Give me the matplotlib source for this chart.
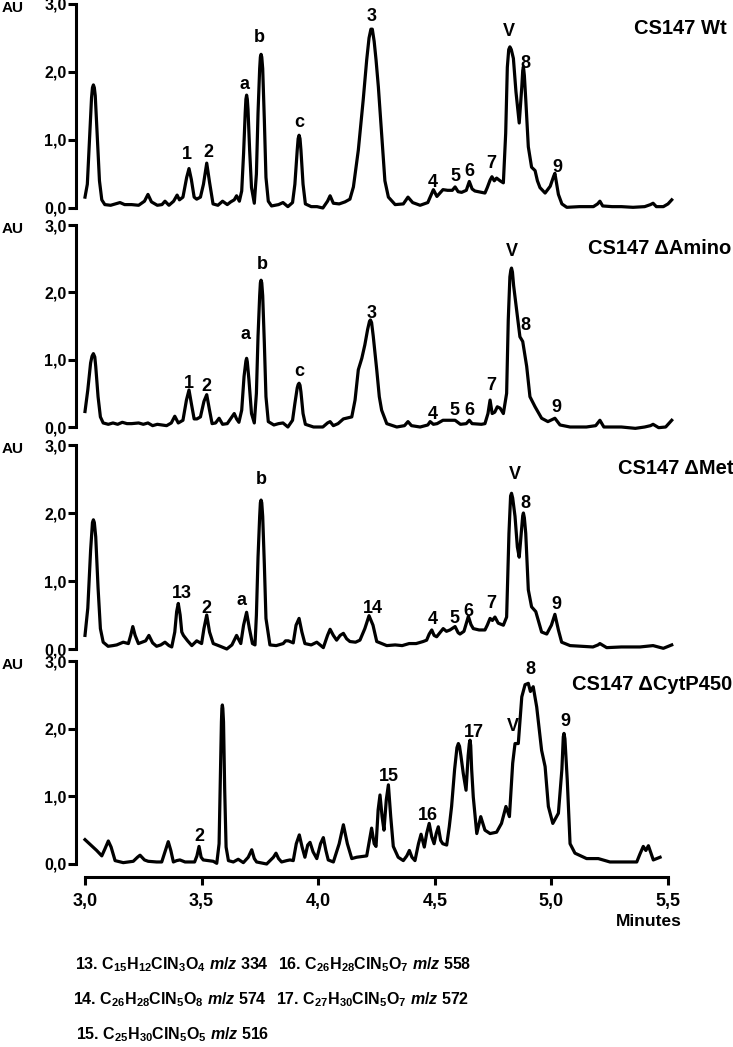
import matplotlib.pyplot as plt

# chromatogram traces: (minutes, AU)
wt_trace = [(3.000, 0.16), (3.010, 0.35), (3.020, 1.05), (3.028, 1.62), (3.032, 1.77), (3.036, 1.81), (3.040, 1.77),
            (3.044, 1.65), (3.052, 1.10),
            (3.062, 0.40), (3.072, 0.12), (3.085, 0.05), (3.110, 0.04), (3.130, 0.06), (3.150, 0.08), (3.170, 0.05),
            (3.200, 0.05), (3.230, 0.04), (3.255, 0.10), (3.270, 0.20), (3.285, 0.09), (3.310, 0.04), (3.330, 0.05),
            (3.343, 0.10), (3.360, 0.04), (3.380, 0.10), (3.395, 0.19), (3.405, 0.12), (3.420, 0.16), (3.436, 0.45),
            (3.446, 0.58), (3.456, 0.42), (3.468, 0.16), (3.479, 0.13), (3.495, 0.16), (3.508, 0.35), (3.522, 0.66),
            (3.534, 0.38), (3.549, 0.06), (3.570, 0.04), (3.590, 0.10), (3.610, 0.05), (3.625, 0.09), (3.640, 0.12),
            (3.650, 0.18), (3.662, 0.10), (3.672, 0.25), (3.680, 0.80), (3.687, 1.40), (3.690, 1.60), (3.693, 1.66),
            (3.696, 1.60), (3.699, 1.45),
            (3.706, 0.85), (3.714, 0.30), (3.726, 0.07), (3.735, 0.50), (3.742, 1.40), (3.749, 2.05), (3.752, 2.22),
            (3.755, 2.26), (3.758, 2.22),
            (3.762, 2.05), (3.769, 1.30), (3.776, 0.45), (3.786, 0.10), (3.800, 0.03), (3.830, 0.05), (3.849, 0.08),
            (3.870, 0.02), (3.890, 0.08), (3.900, 0.35), (3.910, 0.85), (3.914, 1.02), (3.918, 1.07), (3.922, 1.02),
            (3.926, 0.85), (3.935, 0.35),
            (3.945, 0.06), (3.970, 0.02), (3.995, 0.02), (4.020, 0.00), (4.040, 0.10), (4.051, 0.18), (4.065, 0.07),
            (4.090, 0.06), (4.115, 0.09), (4.136, 0.13), (4.151, 0.31), (4.172, 0.85), (4.193, 1.59), (4.208, 2.18),
            (4.218, 2.50), (4.226, 2.63), (4.232, 2.63), (4.240, 2.45), (4.248, 2.18), (4.258, 1.78), (4.272, 1.10),
            (4.286, 0.40), (4.301, 0.16),
            (4.330, 0.05), (4.365, 0.06), (4.385, 0.16), (4.405, 0.08), (4.437, 0.04), (4.470, 0.08), (4.480, 0.16),
            (4.494, 0.27), (4.509, 0.17), (4.535, 0.27), (4.555, 0.26), (4.575, 0.26), (4.587, 0.31), (4.600, 0.24),
            (4.615, 0.23), (4.635, 0.26), (4.648, 0.39), (4.660, 0.28), (4.672, 0.25), (4.700, 0.23), (4.715, 0.22),
            (4.725, 0.30), (4.737, 0.41), (4.745, 0.46), (4.755, 0.40), (4.765, 0.44), (4.780, 0.40), (4.794, 0.37),
            (4.804, 1.10), (4.811, 2.07), (4.817, 2.33), (4.822, 2.37), (4.828, 2.33), (4.837, 2.20), (4.848, 1.71),
            (4.862, 1.25), (4.873, 1.78), (4.877, 2.02),
            (4.880, 2.08), (4.884, 1.95), (4.890, 1.60), (4.901, 0.90), (4.915, 0.60), (4.930, 0.55), (4.940, 0.40),
            (4.951, 0.30), (4.973, 0.22), (4.995, 0.32), (5.010, 0.47), (5.015, 0.51), (5.030, 0.20), (5.045, 0.06),
            (5.066, 0.01), (5.120, 0.02),
            (5.180, 0.02), (5.198, 0.06), (5.208, 0.10), (5.220, 0.03), (5.260, 0.02), (5.300, 0.02), (5.350, 0.01),
            (5.400, 0.02), (5.425, 0.05), (5.436, 0.07), (5.450, 0.02), (5.480, 0.02), (5.500, 0.06), (5.516, 0.12)]

amino_trace = [(3.000, 0.23), (3.012, 0.55), (3.024, 0.95), (3.030, 1.05), (3.036, 1.09), (3.042, 1.04), (3.046, 0.90),
               (3.056, 0.45), (3.066, 0.15),
               (3.078, 0.06), (3.100, 0.04), (3.120, 0.06), (3.140, 0.04), (3.160, 0.07), (3.180, 0.05), (3.200, 0.05),
               (3.230, 0.06), (3.250, 0.04), (3.270, 0.06), (3.290, 0.02), (3.310, 0.04), (3.330, 0.03), (3.350, 0.02),
               (3.370, 0.06), (3.385, 0.16), (3.400, 0.06), (3.420, 0.10), (3.435, 0.40), (3.446, 0.55), (3.456, 0.35),
               (3.468, 0.12), (3.480, 0.12), (3.495, 0.15), (3.510, 0.38), (3.522, 0.48), (3.534, 0.25), (3.545, 0.05),
               (3.560, 0.06), (3.575, 0.13), (3.590, 0.04), (3.610, 0.05), (3.630, 0.15), (3.640, 0.20), (3.650, 0.12),
               (3.660, 0.07), (3.672, 0.25), (3.682, 0.75), (3.690, 0.98), (3.693, 1.02), (3.696, 0.97), (3.703, 0.70),
               (3.714, 0.20), (3.726, 0.06),
               (3.735, 0.50), (3.742, 1.35), (3.749, 1.95), (3.752, 2.14), (3.755, 2.18), (3.758, 2.14), (3.762, 1.95),
               (3.769, 1.25), (3.776, 0.45),
               (3.786, 0.08), (3.810, 0.03), (3.830, 0.05), (3.849, 0.06), (3.870, 0.00), (3.890, 0.10), (3.900, 0.35),
               (3.910, 0.58), (3.914, 0.63), (3.918, 0.65), (3.922, 0.62), (3.926, 0.52), (3.935, 0.20), (3.945, 0.04),
               (3.980, 0.00), (4.020, 0.00),
               (4.040, 0.06), (4.051, 0.08), (4.065, 0.02), (4.085, 0.05), (4.108, 0.12), (4.144, 0.15), (4.158, 0.40),
               (4.172, 0.85), (4.187, 1.02), (4.200, 1.22), (4.212, 1.45), (4.220, 1.57), (4.224, 1.59), (4.229, 1.55),
               (4.236, 1.35), (4.251, 0.85),
               (4.262, 0.45), (4.272, 0.25), (4.294, 0.05), (4.337, 0.00), (4.370, 0.02), (4.385, 0.08), (4.400, 0.02),
               (4.437, 0.00), (4.470, 0.03), (4.480, 0.08), (4.494, 0.04), (4.510, 0.05), (4.535, 0.10), (4.560, 0.10),
               (4.587, 0.10), (4.610, 0.04), (4.635, 0.05), (4.648, 0.10), (4.660, 0.05), (4.700, 0.04), (4.715, 0.05),
               (4.728, 0.20), (4.737, 0.40), (4.746, 0.20), (4.757, 0.22), (4.768, 0.30), (4.780, 0.28), (4.794, 0.20),
               (4.808, 0.50), (4.815, 1.59), (4.822, 2.23), (4.826, 2.33), (4.829, 2.36), (4.833, 2.30), (4.838, 2.10),
               (4.851, 1.74), (4.865, 1.34),
               (4.877, 1.27), (4.894, 0.90), (4.908, 0.45), (4.930, 0.30), (4.958, 0.13), (4.985, 0.08), (5.015, 0.13),
               (5.037, 0.03), (5.080, 0.00), (5.150, 0.00), (5.190, 0.02), (5.208, 0.10), (5.225, 0.00), (5.300, 0.00),
               (5.360, -0.02), (5.400, 0.00), (5.425, 0.02), (5.436, 0.04), (5.460, -0.01), (5.490, 0.00), (5.516, 0.10)]

met_trace = [(3.000, 0.20), (3.012, 0.60), (3.024, 1.45), (3.032, 1.86), (3.036, 1.90), (3.040, 1.86), (3.046, 1.65),
             (3.056, 0.90), (3.066, 0.30),
             (3.078, 0.10), (3.099, 0.04), (3.120, 0.05), (3.136, 0.06), (3.150, 0.08), (3.164, 0.10), (3.186, 0.08),
             (3.196, 0.20), (3.205, 0.33), (3.215, 0.20), (3.229, 0.08), (3.260, 0.12), (3.274, 0.20), (3.290, 0.09),
             (3.307, 0.04), (3.325, 0.06), (3.343, 0.10), (3.360, 0.05), (3.372, 0.03), (3.385, 0.25), (3.393, 0.55),
             (3.400, 0.67), (3.408, 0.50), (3.415, 0.25), (3.422, 0.20), (3.440, 0.12), (3.458, 0.05), (3.479, 0.12),
             (3.500, 0.08), (3.510, 0.30), (3.522, 0.50), (3.534, 0.25), (3.550, 0.08), (3.580, 0.04), (3.608, 0.00),
             (3.630, 0.06), (3.650, 0.20), (3.668, 0.08), (3.680, 0.35), (3.693, 0.54), (3.705, 0.30), (3.718, 0.08),
             (3.729, 0.06), (3.735, 0.50), (3.742, 1.35), (3.749, 1.95), (3.752, 2.15), (3.755, 2.19), (3.758, 2.15),
             (3.762, 1.95), (3.769, 1.25),
             (3.776, 0.45), (3.793, 0.06), (3.820, 0.05), (3.850, 0.08), (3.860, 0.12), (3.872, 0.12), (3.893, 0.09),
             (3.905, 0.35), (3.918, 0.45), (3.930, 0.25), (3.943, 0.08), (3.970, 0.06), (3.994, 0.10), (4.022, 0.02),
             (4.040, 0.20), (4.051, 0.29), (4.065, 0.20), (4.079, 0.13), (4.094, 0.20), (4.108, 0.23), (4.122, 0.15),
             (4.136, 0.11), (4.160, 0.10), (4.179, 0.13), (4.200, 0.30), (4.218, 0.49), (4.235, 0.35), (4.251, 0.11),
             (4.294, 0.05), (4.330, 0.06), (4.360, 0.05), (4.390, 0.08), (4.420, 0.08), (4.450, 0.11), (4.465, 0.13),
             (4.476, 0.22), (4.487, 0.28), (4.497, 0.20), (4.508, 0.18), (4.522, 0.24), (4.536, 0.30), (4.550, 0.26),
             (4.565, 0.28), (4.587, 0.33), (4.600, 0.24), (4.608, 0.22), (4.625, 0.26), (4.644, 0.48), (4.655, 0.36),
             (4.665, 0.30), (4.690, 0.28), (4.715, 0.28), (4.725, 0.35), (4.737, 0.45), (4.747, 0.42), (4.758, 0.47),
             (4.772, 0.38), (4.794, 0.35), (4.808, 0.47), (4.818, 1.70), (4.825, 2.25), (4.829, 2.29), (4.834, 2.22),
             (4.844, 1.95), (4.854, 1.50),
             (4.862, 1.35), (4.873, 1.80), (4.877, 1.96), (4.880, 2.00), (4.884, 1.93), (4.890, 1.70), (4.901, 0.87),
             (4.915, 0.62), (4.933, 0.55),
             (4.958, 0.25), (4.980, 0.22), (5.000, 0.35), (5.015, 0.51), (5.030, 0.28), (5.044, 0.10), (5.080, 0.05),
             (5.178, 0.03), (5.200, 0.06), (5.208, 0.08), (5.237, 0.02), (5.300, 0.03), (5.380, 0.03), (5.436, 0.05),
             (5.480, 0.01), (5.516, 0.06)]

cyt_trace = [(3.000, 0.36), (3.025, 0.28), (3.050, 0.20), (3.072, 0.12), (3.085, 0.22), (3.100, 0.34), (3.112, 0.25),
             (3.129, 0.05), (3.164, 0.02), (3.207, 0.04), (3.225, 0.10), (3.236, 0.13), (3.255, 0.06), (3.271, 0.04),
             (3.307, 0.03), (3.329, 0.03), (3.345, 0.20), (3.357, 0.33), (3.368, 0.20), (3.379, 0.03), (3.393, 0.05),
             (3.407, 0.06), (3.429, 0.03), (3.470, 0.03), (3.480, 0.12), (3.489, 0.26), (3.498, 0.10), (3.507, 0.06),
             (3.530, 0.05), (3.550, 0.04), (3.565, 0.01), (3.575, 0.30), (3.580, 1.20), (3.585, 2.10), (3.587, 2.30),
             (3.589, 2.35), (3.591, 2.30),
             (3.594, 2.10), (3.599, 1.10), (3.605, 0.25), (3.615, 0.05), (3.636, 0.03), (3.657, 0.07), (3.679, 0.02),
             (3.700, 0.10), (3.715, 0.21), (3.726, 0.08), (3.736, 0.03), (3.779, 0.00), (3.808, 0.10), (3.819, 0.16),
             (3.830, 0.08), (3.843, 0.03), (3.865, 0.05), (3.879, 0.06), (3.893, 0.05), (3.906, 0.30), (3.919, 0.43),
             (3.931, 0.25), (3.943, 0.10), (3.955, 0.28), (3.965, 0.32), (3.978, 0.18), (3.994, 0.08), (4.010, 0.30),
             (4.022, 0.39), (4.033, 0.20), (4.043, 0.06), (4.065, 0.03), (4.090, 0.30), (4.108, 0.58), (4.125, 0.30),
             (4.144, 0.08), (4.165, 0.10), (4.208, 0.12), (4.220, 0.35), (4.229, 0.53), (4.240, 0.30), (4.248, 0.26),
             (4.257, 0.80), (4.265, 1.02), (4.274, 0.70), (4.282, 0.50), (4.292, 0.95), (4.301, 1.17), (4.311, 0.70),
             (4.322, 0.26), (4.343, 0.10), (4.365, 0.05), (4.380, 0.12), (4.391, 0.20), (4.402, 0.10), (4.415, 0.05),
             (4.430, 0.30), (4.441, 0.44), (4.455, 0.25), (4.465, 0.45), (4.476, 0.60), (4.487, 0.40), (4.497, 0.30),
             (4.506, 0.45), (4.515, 0.55), (4.525, 0.35), (4.534, 0.30), (4.551, 0.28), (4.562, 0.55), (4.572, 0.85),
             (4.585, 1.40), (4.595, 1.72), (4.601, 1.78), (4.606, 1.74), (4.612, 1.60), (4.622, 1.34), (4.634, 1.09),
             (4.643, 1.60), (4.648, 1.78), (4.651, 1.83), (4.654, 1.75),
             (4.658, 1.40), (4.665, 0.99), (4.680, 0.45), (4.697, 0.70), (4.715, 0.50), (4.737, 0.45), (4.765, 0.47),
             (4.786, 0.60), (4.805, 0.85), (4.820, 0.70), (4.834, 1.49), (4.844, 1.78), (4.858, 1.78), (4.873, 2.47),
             (4.887, 2.65), (4.901, 2.67), (4.910, 2.55), (4.922, 2.62), (4.937, 2.32), (4.958, 1.68), (4.973, 1.44),
             (4.987, 0.85), (5.006, 0.60), (5.030, 0.75), (5.045, 1.40), (5.051, 1.88), (5.054, 1.93), (5.058, 1.85),
             (5.068, 1.24), (5.080, 0.30),
             (5.101, 0.16), (5.151, 0.08), (5.201, 0.08), (5.251, 0.03), (5.366, 0.03), (5.380, 0.15), (5.394, 0.26),
             (5.405, 0.20), (5.416, 0.27), (5.437, 0.06), (5.466, 0.10)]

# peak labels: (text, minutes, AU)
wt_peaks = [("1", 3.436, 0.78), ("2", 3.528, 0.81), ("a", 3.682, 1.81), ("b", 3.746, 2.51), ("c", 3.918, 1.26),
            ("3", 4.230, 2.81), ("4", 4.492, 0.38), ("5", 4.587, 0.46), ("6", 4.647, 0.53), ("7", 4.741, 0.66),
            ("V", 4.818, 2.59), ("8", 4.887, 2.12), ("9", 5.024, 0.60)]
amino_peaks = [("1", 3.446, 0.65), ("2", 3.522, 0.60), ("a", 3.690, 1.37), ("b", 3.760, 2.41), ("c", 3.918, 0.82),
               ("3", 4.229, 1.69), ("4", 4.491, 0.19), ("5", 4.584, 0.24), ("6", 4.648, 0.25), ("7", 4.740, 0.61),
               ("V", 4.829, 2.60), ("8", 4.887, 1.50), ("9", 5.020, 0.29)]
met_peaks = [("13", 3.415, 0.82), ("2", 3.519, 0.60), ("a", 3.672, 0.72), ("b", 3.758, 2.49), ("14", 4.236, 0.60),
             ("4", 4.491, 0.43), ("5", 4.584, 0.45), ("6", 4.644, 0.55), ("7", 4.741, 0.67), ("V", 4.844, 2.56),
             ("8", 4.887, 2.14), ("9", 5.020, 0.66)]
cyt_peaks = [("2", 3.489, 0.40), ("15", 4.301, 1.29), ("16", 4.472, 0.72), ("17", 4.669, 1.95), ("V", 4.834, 2.03),
             ("8", 4.911, 2.87), ("9", 5.061, 2.10)]

strains = ["CS147 Wt", "CS147 \u0394Amino", "CS147 \u0394Met", "CS147 \u0394CytP450"]
y_ticks = [0, 1, 2, 3]
y_labels = ["0,0", "1,0", "2,0", "3,0"]
x_ticks = [3.0, 3.5, 4.0, 4.5, 5.0, 5.5]
x_labels = ["3,0", "3,5", "4,0", "4,5", "5,0", "5,5"]

compounds = [r"13. C$_{15}$H$_{12}$ClN$_{3}$O$_{4}$ $\mathit{m/z}$ 334",
             r"14. C$_{26}$H$_{28}$ClN$_{5}$O$_{8}$ $\mathit{m/z}$ 574",
             r"15. C$_{25}$H$_{30}$ClN$_{5}$O$_{5}$ $\mathit{m/z}$ 516",
             r"16. C$_{26}$H$_{28}$ClN$_{5}$O$_{7}$ $\mathit{m/z}$ 558",
             r"17. C$_{27}$H$_{30}$ClN$_{5}$O$_{7}$ $\mathit{m/z}$ 572"]

plt.rcParams['font.family'] = ['Liberation Sans', 'DejaVu Sans']
plt.rcParams['font.weight'] = 'bold'
plt.rcParams['mathtext.fontset'] = 'custom'
plt.rcParams['mathtext.rm'] = 'Liberation Sans:bold'
plt.rcParams['mathtext.it'] = 'Liberation Sans:bold:italic'
plt.rcParams['mathtext.bf'] = 'Liberation Sans:bold'

W, H = 733, 1047
fig = plt.figure(figsize=(W / 100, H / 100), dpi=100)

# pixel rows of the 0,0 and 3,0 ticks for each panel
rows = [(208, 4), (427, 225), (649, 445), (864, 661)]
traces = [wt_trace, amino_trace, met_trace, cyt_trace]
peaks = [wt_peaks, amino_peaks, met_peaks, cyt_peaks]
title_pos = [(727, 28), (731, 249), (733, 469), (732, 685)]

for i in range(4):
    y0, y3 = rows[i]
    ax = fig.add_axes([85 / W, 1 - y0 / H, 583 / W, (y0 - y3) / H])
    t, au = zip(*traces[i])
    ax.plot(t, au, color='black', lw=2.3, solid_joinstyle='round', clip_on=False)
    for name, px, py in peaks[i]:
        ax.text(px, py, name, ha='center', va='center', fontsize=13, fontweight='bold')
    ax.set_xlim(3.0, 5.5)
    ax.set_ylim(0, 3)
    ax.spines['top'].set_visible(False)
    ax.spines['right'].set_visible(False)
    ax.spines['left'].set_position(('outward', 6.5))
    ax.spines['left'].set_linewidth(2.2)
    ax.set_yticks(y_ticks)
    ax.set_yticklabels(y_labels)
    ax.tick_params(axis='y', length=5.8, width=2.2, pad=1, labelsize=11.5)
    if i < 3:
        ax.spines['bottom'].set_visible(False)
        ax.set_xticks([])
    else:
        ax.spines['bottom'].set_position(('outward', 9.4))
        ax.spines['bottom'].set_linewidth(2.2)
        ax.set_xticks(x_ticks)
        ax.set_xticklabels(x_labels)
        ax.tick_params(axis='x', length=5.8, width=2.2, pad=6, labelsize=13)
    fig.text(2 / W, 1 - (y3 + 4) / H, "AU", ha='left', va='center', fontsize=11, fontweight='bold')
    tx, ty = title_pos[i]
    fig.text(tx / W, 1 - ty / H, strains[i], ha='right', va='center', fontsize=14.5, fontweight='bold')

fig.text(682 / W, 1 - 921 / H, "Minutes", ha='right', va='center', fontsize=12.5, fontweight='bold')

formula_pos = [(75, 965), (73, 1000), (76, 1035), (278, 965), (276, 1000)]
for txt, (fx, fy) in zip(compounds, formula_pos):
    fig.text(fx / W, 1 - fy / H, txt, ha='left', va='center', fontsize=11.5)

fig.savefig('out.png', dpi=100)
